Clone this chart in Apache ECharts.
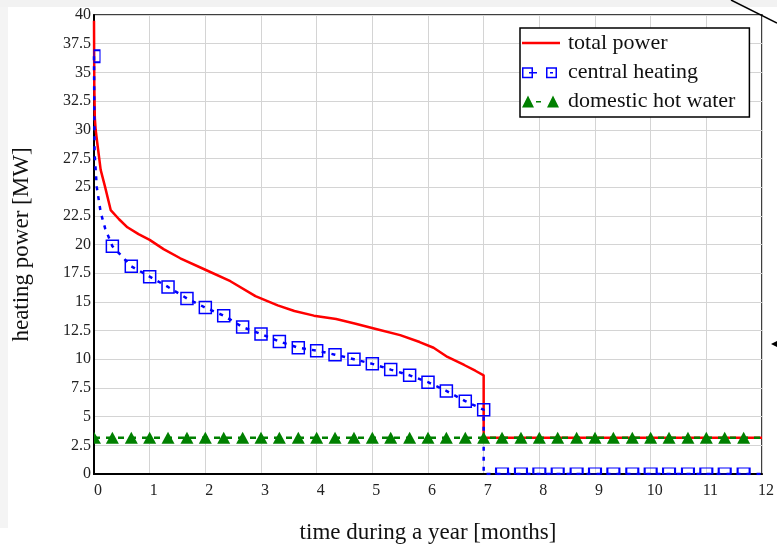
<!DOCTYPE html>
<html>
<head>
<meta charset="utf-8">
<script src="https://cdn.jsdelivr.net/npm/echarts@6/dist/echarts.min.js"></script>
<style>
  html, body { margin: 0; padding: 0; background: #fff; }
  #main { width: 777px; height: 549px; }
</style>
</head>
<body>
<div id="main"></div>
<script>
var myChart = echarts.init(document.getElementById("main"));

// total power curve, [month, MW]
const totalPower = [
  [0, 39.5], [0.005, 34], [0.015, 31], [0.03, 30], [0.06, 28.8], [0.12, 26.5],
  [0.2, 25], [0.3, 23], [0.45, 22.2], [0.6, 21.5], [0.8, 20.9], [1.0, 20.4],
  [1.25, 19.6], [1.55, 18.8], [2.0, 17.8], [2.45, 16.8], [2.9, 15.5], [3.3, 14.7],
  [3.6, 14.2], [3.95, 13.8], [4.35, 13.5], [4.7, 13.1], [5.1, 12.6], [5.5, 12.1],
  [5.85, 11.5], [6.1, 11.0], [6.35, 10.2], [6.65, 9.5], [6.85, 9.0], [7.0, 8.6],
  [7.0, 3.15], [12, 3.15]
];

// central heating: marker positions and values
const heatX = [0, 0.33, 0.67, 1, 1.33, 1.67, 2, 2.33, 2.67, 3, 3.33, 3.67, 4, 4.33,
  4.67, 5, 5.33, 5.67, 6, 6.33, 6.67, 7];
const heatY = [36.4, 19.85, 18.1, 17.2, 16.3, 15.3, 14.5, 13.8, 12.8, 12.2, 11.55,
  11.0, 10.75, 10.4, 10.0, 9.6, 9.1, 8.6, 8.0, 7.24, 6.35, 5.6];
// steep start of the heating curve (no markers)
const heatStart = [[0.01, 28], [0.05, 25], [0.12, 22.8], [0.2, 21.4]];
// summer: heating off
const heatOffX = [7.33, 7.67, 8, 8.33, 8.67, 9, 9.33, 9.67, 10, 10.33, 10.67, 11, 11.33, 11.67];

// domestic hot water
const dhwX = [0, 0.33, 0.67, 1, 1.33, 1.67, 2, 2.33, 2.67, 3, 3.33, 3.67, 4, 4.33, 4.67,
  5, 5.33, 5.67, 6, 6.33, 6.67, 7, 7.33, 7.67, 8, 8.33, 8.67, 9, 9.33, 9.67, 10, 10.33,
  10.67, 11, 11.33, 11.67];
const dhwValue = 3.15;

const serif = "Liberation Serif";

// build central heating data
const heatData = [];
heatData.push({ value: [heatX[0], heatY[0]], symbolSize: [6, 12], symbolOffset: [3, 0] });
heatStart.forEach(function (p) { heatData.push({ value: p, symbol: "none" }); });
for (let i = 1; i < heatX.length; i++) heatData.push([heatX[i], heatY[i]]);
heatData.push({ value: [7, 0], symbol: "none" });
heatOffX.forEach(function (x) {
  heatData.push({ value: [x, 0], symbolSize: [12, 6], symbolOffset: [0, -3] });
});
heatData.push({ value: [12, 0], symbol: "none" });

// build hot water data
const dhwData = dhwX.map(function (x, i) {
  if (i === 0) {
    return { value: [x, dhwValue], symbol: "path://M0,0L1,1L0,1Z", symbolSize: [7, 12], symbolOffset: [3.5, 0] };
  }
  return [x, dhwValue];
});
dhwData.push({ value: [12, dhwValue], symbol: "none" });

// legend icons drawn like the original: line / box-dash-box / triangle-dash-triangle
const iconLine = "path://M0,0H38V2.5H0Z";
const iconBoxes = "path://M0,1.5H11V12.5H0Z M1.5,3V11H9.5V3Z M7,6.3H15V7.7H7Z " +
  "M24,1.5H35V12.5H24Z M25.5,3V11H33.5V3Z M28,6.3H31V7.7H28Z M38,0V0.1H37.9Z M0,0V0.1H0.1Z";
const iconTriangles = "path://M6,1L12,13H0Z M14,6.5H19V8H14Z M31,1L37,13H25Z M38,0V0.1H37.9Z M0,0V0.1H0.1Z";

option = {
  animation: false,
  backgroundColor: "#fff",
  textStyle: { fontFamily: serif },
  grid: {
    left: 94, top: 15, right: 11, bottom: 71,
    show: true, borderColor: "#000", borderWidth: 1.5, backgroundColor: "#fff"
  },
  legend: {
    left: 520, top: 28,
    orient: "vertical",
    backgroundColor: "#fff",
    borderColor: "#000",
    borderWidth: 1.5,
    padding: [4, 14, 5, 2],
    itemGap: 7,
    itemWidth: 38,
    itemHeight: 14,
    textStyle: { fontFamily: serif, fontSize: 22, lineHeight: 22, color: "#111", padding: [0, 0, 0, 3] },
    data: [
      { name: "total power", icon: iconLine, itemStyle: { color: "#ff0000", borderWidth: 0 } },
      { name: "central heating", icon: iconBoxes, itemStyle: { color: "#0000ff", borderWidth: 0 } },
      { name: "domestic hot water", icon: iconTriangles, itemStyle: { color: "#008000", borderWidth: 0 } }
    ]
  },
  xAxis: {
    type: "value", min: 0, max: 12, interval: 1,
    name: "time during a year [months]",
    nameLocation: "middle", nameGap: 47,
    nameTextStyle: { fontFamily: serif, fontSize: 23, color: "#111" },
    axisLine: { onZero: false, lineStyle: { color: "#000", width: 2 } },
    axisTick: { show: false },
    axisLabel: { margin: 9, fontFamily: serif, fontSize: 16, color: "#222", padding: [0, 0, 0, 8] },
    splitLine: { show: true, lineStyle: { color: "#d4d4d4", width: 1 } }
  },
  yAxis: {
    type: "value", min: 0, max: 40, interval: 2.5,
    name: "heating power [MW]",
    nameLocation: "middle", nameGap: 61,
    nameTextStyle: { fontFamily: serif, fontSize: 23, color: "#111" },
    axisLine: { show: true, lineStyle: { color: "#000", width: 2 } },
    axisTick: { show: false },
    axisLabel: { margin: 3, fontFamily: serif, fontSize: 16, color: "#222" },
    splitLine: { show: true, lineStyle: { color: "#d4d4d4", width: 1 } }
  },
  series: [
    {
      name: "total power",
      type: "line",
      data: totalPower,
      symbol: "none",
      lineStyle: { color: "#ff0000", width: 2.5 },
      itemStyle: { color: "#ff0000" }
    },
    {
      name: "central heating",
      type: "line",
      data: heatData,
      symbol: "rect",
      symbolSize: 12,
      showAllSymbol: true,
      lineStyle: { color: "#0000ff", width: 2.5, type: [4, 6] },
      itemStyle: { color: "rgba(255,255,255,0)", borderColor: "#0000ff", borderWidth: 1.5 }
    },
    {
      name: "domestic hot water",
      type: "line",
      data: dhwData,
      symbol: "triangle",
      symbolSize: [13, 12],
      showAllSymbol: true,
      lineStyle: { color: "#008000", width: 2.5, type: [6, 6] },
      itemStyle: { color: "#008000" }
    }
  ],
  graphic: [
    { type: "rect", shape: { x: 0, y: 0, width: 777, height: 7 }, style: { fill: "#f2f2f2" }, z: -10 },
    { type: "rect", shape: { x: 0, y: 7, width: 8, height: 521 }, style: { fill: "#f4f4f4" }, z: -10 },
    { type: "line", shape: { x1: 731, y1: 0, x2: 777, y2: 23 }, style: { stroke: "#000", lineWidth: 1.5 }, z: 100 },
    { type: "polygon", shape: { points: [[771, 344], [777, 341], [777, 347]] }, style: { fill: "#000" }, z: 100 }
  ]
};

myChart.setOption(option);
</script>
</body>
</html>
